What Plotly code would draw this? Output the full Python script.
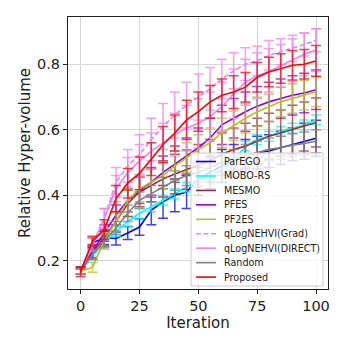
import plotly.graph_objects as go

iterations = list(range(0, 101, 5))

names = ["ParEGO", "MOBO-RS", "MESMO", "PFES", "PF2ES",
         "qLogNEHVI(Grad)", "qLogNEHVI(DIRECT)", "Random", "Proposed"]

parego = [0.170, 0.255, 0.270, 0.268, 0.285, 0.303, 0.355, 0.380, 0.400, 0.410, 0.450,
          0.470, 0.490, 0.505, 0.520, 0.530, 0.535, 0.545, 0.555, 0.565, 0.574]
parego_err = [0.010, 0.015, 0.020, 0.020, 0.020, 0.025, 0.045, 0.050, 0.050, 0.050, 0.050,
              0.050, 0.050, 0.050, 0.050, 0.050, 0.050, 0.050, 0.050, 0.055, 0.055]

mobo = [0.168, 0.215, 0.255, 0.290, 0.320, 0.345, 0.365, 0.385, 0.405, 0.425, 0.445,
        0.460, 0.480, 0.505, 0.550, 0.570, 0.580, 0.595, 0.605, 0.615, 0.630]
mobo_err = [0.008, 0.012, 0.012, 0.015, 0.015, 0.015, 0.015, 0.015, 0.015, 0.015, 0.015,
            0.015, 0.015, 0.015, 0.015, 0.015, 0.015, 0.015, 0.015, 0.015, 0.015]

mesmo = [0.168, 0.225, 0.270, 0.320, 0.375, 0.410, 0.430, 0.450, 0.465, 0.478, 0.490,
         0.505, 0.525, 0.540, 0.550, 0.565, 0.580, 0.590, 0.600, 0.610, 0.622]
mesmo_err = [0.008, 0.020, 0.025, 0.030, 0.040, 0.045, 0.050, 0.055, 0.060, 0.060, 0.065,
             0.065, 0.065, 0.065, 0.070, 0.070, 0.070, 0.070, 0.075, 0.075, 0.075]

pfes = [0.168, 0.230, 0.285, 0.340, 0.385, 0.415, 0.440, 0.470, 0.495, 0.520, 0.545,
        0.575, 0.615, 0.635, 0.655, 0.672, 0.685, 0.695, 0.705, 0.712, 0.722]
pfes_err = [0.008, 0.020, 0.025, 0.030, 0.035, 0.040, 0.045, 0.050, 0.055, 0.055, 0.060,
            0.060, 0.060, 0.060, 0.060, 0.060, 0.060, 0.060, 0.060, 0.060, 0.060]

pf2es = [0.168, 0.180, 0.260, 0.320, 0.385, 0.420, 0.440, 0.460, 0.490, 0.515, 0.540,
         0.560, 0.590, 0.612, 0.635, 0.655, 0.670, 0.685, 0.695, 0.705, 0.716]
pf2es_err = [0.008, 0.015, 0.025, 0.030, 0.035, 0.040, 0.040, 0.040, 0.045, 0.045, 0.045,
             0.045, 0.045, 0.045, 0.045, 0.045, 0.045, 0.045, 0.045, 0.045, 0.045]

grad = [0.168, 0.250, 0.330, 0.440, 0.490, 0.525, 0.570, 0.610, 0.645, 0.675, 0.700,
        0.725, 0.755, 0.780, 0.800, 0.810, 0.827, 0.838, 0.848, 0.860, 0.873]
grad_err = [0.008, 0.020, 0.030, 0.045, 0.050, 0.060, 0.065, 0.070, 0.070, 0.070, 0.070,
            0.065, 0.060, 0.055, 0.050, 0.045, 0.045, 0.040, 0.040, 0.035, 0.035]

direct = [0.168, 0.250, 0.330, 0.420, 0.470, 0.505, 0.535, 0.560, 0.585, 0.605, 0.620,
          0.640, 0.670, 0.710, 0.745, 0.765, 0.778, 0.795, 0.812, 0.830, 0.843]
direct_err = [0.008, 0.020, 0.030, 0.040, 0.045, 0.050, 0.055, 0.060, 0.065, 0.070, 0.075,
              0.075, 0.075, 0.075, 0.070, 0.070, 0.070, 0.065, 0.065, 0.065, 0.065]

rand = [0.168, 0.220, 0.260, 0.300, 0.345, 0.385, 0.405, 0.425, 0.445, 0.460, 0.470,
        0.485, 0.500, 0.510, 0.520, 0.530, 0.540, 0.545, 0.553, 0.558, 0.565]
rand_err = [0.008, 0.015, 0.020, 0.020, 0.025, 0.025, 0.025, 0.030, 0.030, 0.030, 0.030,
            0.030, 0.030, 0.030, 0.035, 0.035, 0.035, 0.035, 0.035, 0.035, 0.035]

proposed = [0.167, 0.260, 0.295, 0.390, 0.437, 0.467, 0.510, 0.555, 0.590, 0.630, 0.655,
            0.685, 0.705, 0.715, 0.730, 0.760, 0.776, 0.787, 0.797, 0.800, 0.810]
proposed_err = [0.015, 0.015, 0.030, 0.040, 0.045, 0.050, 0.050, 0.055, 0.055, 0.060, 0.060,
                0.050, 0.050, 0.050, 0.045, 0.045, 0.045, 0.045, 0.045, 0.045, 0.047]

values = [parego, mobo, mesmo, pfes, pf2es, grad, direct, rand, proposed]
errors = [parego_err, mobo_err, mesmo_err, pfes_err, pf2es_err, grad_err, direct_err, rand_err, proposed_err]
colors = ["#0000ff", "#00ffff", "#a52a2a", "#9400d3", "#bcbd22",
          "#ee82ee", "#ee82ee", "#808080", "#ff0000"]
dashes = ["solid", "solid", "solid", "solid", "solid", "5px,2.5px", "solid", "solid", "solid"]

x_ticks = [0, 25, 50, 75, 100]
y_ticks = [0.2, 0.4, 0.6, 0.8]


def rgba(hexc, a):
    h = hexc.lstrip("#")
    r, g, b = int(h[0:2], 16), int(h[2:4], 16), int(h[4:6], 16)
    return f"rgba({r},{g},{b},{a})"


fig = go.Figure()
for name, vals, errs, col, dash in zip(names, values, errors, colors, dashes):
    fig.add_trace(go.Scatter(
        x=iterations, y=vals, name=name, mode="lines",
        line=dict(color=col, width=1.6, dash=dash),
        error_y=dict(type="data", array=errs, visible=True,
                     color=rgba(col, 0.75), thickness=1.5, width=5),
        showlegend=False,
    ))

# page has an 8px body margin; figure is 341x341 placed at (8,8)
OFF = 8
FIG = 341
# plot area in window pixels: x 68..328, y 17..289
L, R, T, B = 68, 328, 17, 289
W, H = R - L, B - T


def px(x):
    return (x - L) / W


def py(y):
    return (B - y) / H


shapes = [dict(type="rect", xref="paper", yref="paper",
               x0=px(191), x1=px(323), y0=py(286), y1=py(153),
               fillcolor="rgba(255,255,255,0.8)", line=dict(color="#cccccc", width=1),
               layer="above")]
annotations = []
for i, (name, col, dash) in enumerate(zip(names, colors, dashes)):
    yy = 161.5 + 14.45 * i
    shapes.append(dict(type="line", xref="paper", yref="paper",
                       x0=px(196), x1=px(216), y0=py(yy), y1=py(yy),
                       line=dict(color=col, width=1.6, dash=dash), layer="above"))
    annotations.append(dict(xref="paper", yref="paper", x=px(222), y=py(yy),
                            text=name, showarrow=False, xanchor="left", yanchor="middle",
                            font=dict(size=9.6, color="#222222")))

fig.update_layout(
    width=FIG, height=FIG,
    margin=dict(l=L - OFF, r=FIG + OFF - R, t=T - OFF, b=FIG + OFF - B, pad=0),
    paper_bgcolor="white", plot_bgcolor="white",
    font=dict(family="DejaVu Sans", color="#222222"),
    shapes=shapes, annotations=annotations,
    showlegend=False,
)
fig.update_xaxes(
    range=[-5.4, 105.1], tickvals=x_ticks, ticks="outside", ticklen=4, tickcolor="#222",
    showgrid=True, gridcolor="#d6d6d6", gridwidth=1, zeroline=False, automargin=False,
    showline=True, linecolor="#222", linewidth=1, mirror=True,
    tickfont=dict(size=14.5), title=dict(text="Iteration", font=dict(size=15), standoff=0),
)
fig.update_yaxes(
    range=[0.114, 0.944], tickvals=y_ticks, tickformat=".1f", ticks="outside", ticklen=4,
    tickcolor="#222",
    showgrid=True, gridcolor="#d6d6d6", gridwidth=1, zeroline=False, automargin=False,
    showline=True, linecolor="#222", linewidth=1, mirror=True,
    tickfont=dict(size=14.5), title=dict(text="Relative Hyper-volume", font=dict(size=15), standoff=2),
)

fig.write_html("out.html")
